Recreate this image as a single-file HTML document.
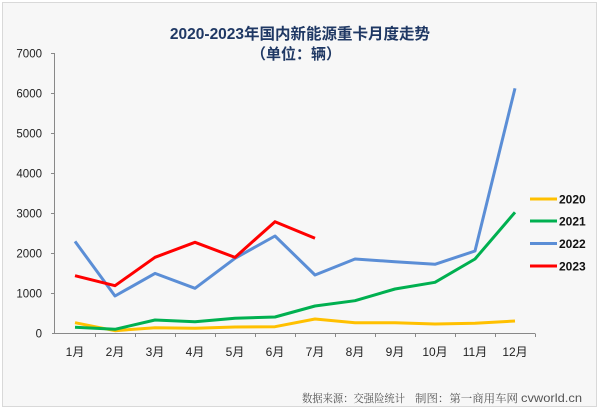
<!DOCTYPE html>
<html><head><meta charset="utf-8"><style>
html,body{margin:0;padding:0;background:#fff;}
svg{display:block;}
</style></head><body>
<svg width="600" height="409" viewBox="0 0 600 409" xmlns="http://www.w3.org/2000/svg">
<rect x="2.5" y="2.5" width="594" height="404" fill="#f7f7f7" stroke="#d9d9d9" stroke-width="1"/>
<text x="300" y="39" text-anchor="middle" font-family="Liberation Sans, Noto Sans CJK SC, sans-serif" font-size="15.5" font-weight="bold" fill="#1f3864">2020-2023年国内新能源重卡月度走势</text>
<text x="296" y="59" text-anchor="middle" font-family="Liberation Sans, Noto Sans CJK SC, sans-serif" font-size="15" font-weight="bold" fill="#1f3864">（单位：辆）</text>
<g stroke="#888" stroke-width="1" fill="none">
<line x1="54.5" y1="53" x2="54.5" y2="333.5"/>
<line x1="52" y1="333.5" x2="535" y2="333.5"/>
<line x1="51" y1="53.5" x2="54.5" y2="53.5"/>
<line x1="51" y1="93.5" x2="54.5" y2="93.5"/>
<line x1="51" y1="133.5" x2="54.5" y2="133.5"/>
<line x1="51" y1="173.5" x2="54.5" y2="173.5"/>
<line x1="51" y1="213.5" x2="54.5" y2="213.5"/>
<line x1="51" y1="253.5" x2="54.5" y2="253.5"/>
<line x1="51" y1="293.5" x2="54.5" y2="293.5"/>
<line x1="95.5" y1="333.5" x2="95.5" y2="337"/>
<line x1="135.5" y1="333.5" x2="135.5" y2="337"/>
<line x1="175.5" y1="333.5" x2="175.5" y2="337"/>
<line x1="215.5" y1="333.5" x2="215.5" y2="337"/>
<line x1="255.5" y1="333.5" x2="255.5" y2="337"/>
<line x1="295.5" y1="333.5" x2="295.5" y2="337"/>
<line x1="335.5" y1="333.5" x2="335.5" y2="337"/>
<line x1="375.5" y1="333.5" x2="375.5" y2="337"/>
<line x1="415.5" y1="333.5" x2="415.5" y2="337"/>
<line x1="455.5" y1="333.5" x2="455.5" y2="337"/>
<line x1="495.5" y1="333.5" x2="495.5" y2="337"/>
<line x1="535.5" y1="333.5" x2="535.5" y2="337"/>
</g>
<g font-family="Liberation Sans, sans-serif" font-size="11.5" fill="#222" text-anchor="end">
<text x="42" y="57.5">7000</text>
<text x="42" y="97.5">6000</text>
<text x="42" y="137.5">5000</text>
<text x="42" y="177.5">4000</text>
<text x="42" y="217.5">3000</text>
<text x="42" y="257.5">2000</text>
<text x="42" y="297.5">1000</text>
<text x="42" y="337.5">0</text>
</g>
<g font-family="Liberation Sans, Noto Sans CJK SC, sans-serif" font-size="12" fill="#222" text-anchor="middle">
<text x="75" y="356">1月</text>
<text x="115" y="356">2月</text>
<text x="155" y="356">3月</text>
<text x="195" y="356">4月</text>
<text x="235" y="356">5月</text>
<text x="275" y="356">6月</text>
<text x="315" y="356">7月</text>
<text x="355" y="356">8月</text>
<text x="395" y="356">9月</text>
<text x="435" y="356">10月</text>
<text x="475" y="356">11月</text>
<text x="515" y="356">12月</text>
</g>
<g fill="none" stroke-width="3" stroke-linejoin="round" stroke-linecap="butt">
<polyline stroke="#FFC000" points="75,322.7 115,330.7 155,327.7 195,328.3 235,327 275,326.7 315,319 355,322.7 395,322.7 435,324 475,323.3 515,321"/>
<polyline stroke="#00B050" points="75,327.3 115,329.3 155,320 195,321.7 235,318.3 275,317 315,306 355,300.7 395,289 435,282.3 475,259 515,212.3"/>
<polyline stroke="#5B8ED6" points="75,241.4 115,296 155,273.4 195,288.3 235,258.3 275,236 315,275 355,259 395,261.7 435,264.3 475,251 515,88.3"/>
<polyline stroke="#FF0000" points="75,275.7 115,285.7 155,257.3 195,242.3 235,257.4 275,221.7 315,238.3"/>
</g>
<g stroke-width="3">
<line x1="530" y1="199" x2="557" y2="199" stroke="#FFC000"/>
<line x1="530" y1="221" x2="557" y2="221" stroke="#00B050"/>
<line x1="530" y1="243.5" x2="557" y2="243.5" stroke="#5B8ED6"/>
<line x1="530" y1="266" x2="557" y2="266" stroke="#FF0000"/>
</g>
<g font-family="Liberation Sans, sans-serif" font-size="12" font-weight="bold" fill="#111">
<text x="559" y="203.5">2020</text>
<text x="559" y="225.5">2021</text>
<text x="559" y="248">2022</text>
<text x="559" y="270.5">2023</text>
</g>
<g font-family="Liberation Serif, Noto Serif CJK SC, serif" font-size="11" fill="#555">
<text x="302" y="402" textLength="103" lengthAdjust="spacingAndGlyphs">数据来源：交强险统计</text>
<text x="415" y="402" textLength="103" lengthAdjust="spacingAndGlyphs">制图：第一商用车网</text>
<text x="521" y="402" textLength="61" lengthAdjust="spacingAndGlyphs" font-family="Liberation Sans, sans-serif" font-size="12">cvworld.cn</text>
</g>
</svg>
</body></html>
